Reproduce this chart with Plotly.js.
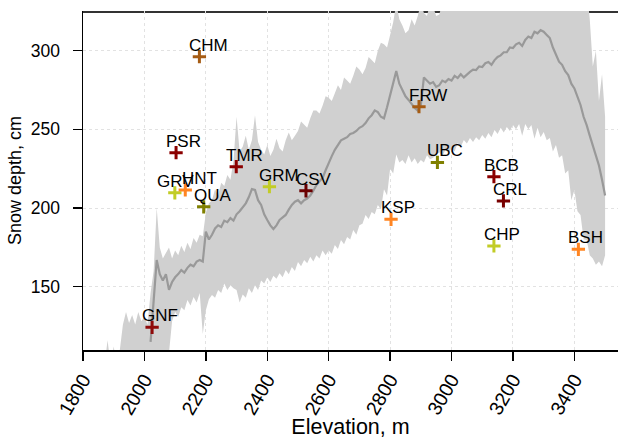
<!DOCTYPE html>
<html>
<head>
<meta charset="utf-8">
<script src="https://cdn.plot.ly/plotly-3.0.1.min.js"></script>
<style>html,body{margin:0;padding:0;background:#fff}#chart{width:618px;height:439px}</style>
</head>
<body>
<div id="chart"></div>
<script>
// ---- Band along elevation (m): min / max envelope and median snow depth (cm)
const bandElev = [
  1860,1870,1880,1890,1900,1910,1920,1930,1940,1950,
  1960,1970,1980,1990,2000,2010,2020,2030,2040,2050,
  2060,2070,2080,2090,2100,2110,2120,2130,2140,2150,
  2160,2170,2180,2190,2200,2210,2220,2230,2240,2250,
  2260,2270,2280,2290,2300,2310,2320,2330,2340,2350,
  2360,2370,2380,2390,2400,2410,2420,2430,2440,2450,
  2460,2470,2480,2490,2500,2510,2520,2530,2540,2550,
  2560,2570,2580,2590,2600,2610,2620,2630,2640,2650,
  2660,2670,2680,2690,2700,2710,2720,2730,2740,2750,
  2760,2770,2780,2790,2800,2810,2820,2830,2840,2850,
  2860,2870,2880,2890,2900,2910,2920,2930,2940,2950,
  2960,2970,2980,2990,3000,3010,3020,3030,3040,3050,
  3060,3070,3080,3090,3100,3110,3120,3130,3140,3150,
  3160,3170,3180,3190,3200,3210,3220,3230,3240,3250,
  3260,3270,3280,3290,3300,3310,3320,3330,3340,3350,
  3360,3370,3380,3390,3400,3410,3420,3430,3440,3450,
  3460,3470,3480,3490,3500];
const bandUpper = [
  100,100,116,100,112,100,110,126,134,127,
  132,126,134,128,131,126,146,160,200,175,
  168,172,175,168,173,170,176,172,178,174,
  181,178,183,182,197,203,205,212,208,216,
  214,221,218,230,258,236,239,246,237,243,
  259,242,237,234,240,233,237,244,238,236,
  243,248,243,246,249,255,253,251,257,262,
  262,260,265,271,270,268,273,278,275,283,
  281,279,284,290,288,285,289,296,294,292,
  300,305,304,302,310,318,330,320,316,311,
  313,320,316,322,330,324,322,330,328,322,
  323,330,330,326,326,332,332,329,335,340,
  340,340,340,340,340,340,340,340,340,340,
  340,340,340,340,340,340,340,340,340,340,
  340,340,340,340,340,340,340,340,340,340,
  340,340,340,340,340,340,340,340,340,320,
  290,300,268,285,258];
const bandLower = [
  100,100,100,100,100,100,100,100,100,100,
  100,100,100,100,100,100,100,100,100,100,
  100,100,108,128,134,131,137,135,141.6,138,
  143.5,140,146,120,135,142,144.7,143,148,146,
  152,148,151,149,148,140,145,143,149,146,
  151,148,154,152,156,153,157,155,158.6,156,
  160.6,158,162.5,160,165.7,163,167,165,169,166,
  170,168,173,170,173,171,176.5,174,179.7,177,
  181.6,180,186,183,189,190,195.6,193,197.5,196,
  202,199,212,208,225,222,234,229,230.5,228,
  233.6,229,231.7,228,230.5,229,233.6,231,232,234,
  235.5,233,236.9,235,238,236,241.3,239,243.2,241,
  244.5,242,245,243,246.4,244,247.7,245,249.6,247,
  251,248,251.5,249,252.7,250,253.4,246,253.4,250,
  252.7,244,251,245,248.3,243,244.5,236,240,232,
  233.6,222,224,205,211.5,198,195.6,180,179.7,170,
  168,164,166,163,170];
const bandMedian = [
  null,null,null,null,null,null,null,null,null,null,
  null,null,null,null,null,null,115,140,167,158,
  154,158,148,153,156,158,160.6,159,162,164,
  163,166,167,166,185,180,183,187,189,188,
  192,191,193.6,192,196,198,200.6,203,207,212,
  211.5,205,202,196,192.4,189,186.7,189,192.4,194,
  195.6,199,202,204,205,203,205,206,208,211,
  214.6,217,219,224,229,233,237,240,243,244,
  245,247,247.7,249,251,252,254,257,259,262,
  261,258,257,264,272,280,287,279,275,271,
  268.7,266,263.6,262,265.5,283,281,279,280,277,
  278,281,280,282,281,284,282.6,285,283,285,
  286.5,288,287.7,290,289.6,292,292.8,291,294,296,
  297,299,299,302,301.7,304,305,303,306.8,309,
  308,312,311,313,312,310,308,302,297,293,
  291,287,284.5,279,276,271,265.5,258,252.7,246,
  240,233,227,218,208];

// ---- Stations
const stationNames = ['GNF','CHM','PSR','TMR','GRV','HNT','QUA','GRM','CSV','FRW','UBC','BCB','CRL','KSP','CHP','BSH'];
const stationElev  = [2025,2179,2103,2299,2099,2133,2193,2407,2526,2894,2954,3138,3169,2803,3138,3413];
const stationDepth = [124.2,296.2,235.2,226.3,209.7,211.5,200.8,213.6,211,264.4,229,219.9,204.5,192.8,175.9,173.8];

// ---- Axis ticks
const xTicks = [1800,2000,2200,2400,2600,2800,3000,3200,3400];
const yTicks = [150,200,250,300];

// ---- Styles (kept apart from the data)
const stationColour = {
  GNF:'#8f0a0a', PSR:'#8b0000', TMR:'#8b0000', BCB:'#8b0000', CSV:'#6a0000', CRL:'#780000',
  CHM:'#a65c14', FRW:'#a65c14',
  HNT:'#ff8522', KSP:'#ff8522', BSH:'#ff8522',
  GRV:'#c2cc26', GRM:'#c2cc26', CHP:'#c2cc26',
  QUA:'#808000', UBC:'#808000'
};
const labelShift = {GRV:-20, HNT:-5};
const FONT = '"Liberation Sans", Arial, Helvetica, sans-serif';
const BAND = '#d0d0d0';

const traces = [
  {x: bandElev, y: bandLower, type:'scatter', mode:'lines', line:{width:0, color:BAND}, hoverinfo:'skip', showlegend:false},
  {x: bandElev, y: bandUpper, type:'scatter', mode:'lines', line:{width:0, color:BAND}, fill:'tonexty', fillcolor:BAND, hoverinfo:'skip', showlegend:false},
  {x: bandElev, y: bandMedian, type:'scatter', mode:'lines', line:{width:2.2, color:'#999999'}, connectgaps:false, showlegend:false},
  {x: stationElev, y: stationDepth, type:'scatter', mode:'markers', showlegend:false,
   marker:{symbol:'cross-thin-open', size:9.5, line:{width:3, color: stationNames.map(n => stationColour[n])}, color: stationNames.map(n => stationColour[n])}}
];

const annotations = stationNames.map((n, i) => ({
  x: stationElev[i], y: stationDepth[i], text: n, showarrow:false,
  xanchor:'left', yanchor:'bottom', xshift: (labelShift[n] !== undefined ? labelShift[n] : -12), yshift: 0,
  font:{family:FONT, size:17, color:'#000'}
}));

const layout = {
  width:618, height:439,
  margin:{l:83, r:0, t:11, b:89},
  paper_bgcolor:'#fff', plot_bgcolor:'#fff',
  font:{family:FONT, color:'#000'},
  showlegend:false,
  xaxis:{
    range:[1800,3542], tickvals:xTicks, ticktext:xTicks.map(String), tickangle:-60,
    ticks:'outside', ticklen:9, tickwidth:1.3, tickcolor:'#000',
    showline:true, linecolor:'#000', linewidth:1.5, mirror:false,
    showgrid:true, gridcolor:'#e2e2e2', griddash:'dot', gridwidth:1, zeroline:false,
    tickfont:{family:FONT, size:19.5, color:'#000'},
    title:{text:'Elevation, m', font:{family:FONT, size:21.5, color:'#000'}, standoff:0},
    layer:'below traces', automargin:false
  },
  yaxis:{
    range:[109.8,325.2], tickvals:yTicks, ticktext:yTicks.map(String),
    ticks:'outside', ticklen:9, tickwidth:1.3, tickcolor:'#000', ticklabelstandoff:9,
    showline:true, linecolor:'#000', linewidth:1.5,
    showgrid:true, gridcolor:'#e2e2e2', griddash:'dot', gridwidth:1, zeroline:false,
    tickfont:{family:FONT, size:17.5, color:'#000'},
    title:{text:'Snow depth, cm', font:{family:FONT, size:18, color:'#000'}, standoff:4},
    layer:'below traces', automargin:false
  },
  shapes:[{type:'line', xref:'paper', yref:'paper', x0:0, x1:1, y0:0.997, y1:0.997, layer:'below', line:{color:'#333', width:2}}],
  annotations: annotations
};

Plotly.newPlot('chart', traces, layout, {displayModeBar:false, staticPlot:true});
</script>
</body>
</html>
